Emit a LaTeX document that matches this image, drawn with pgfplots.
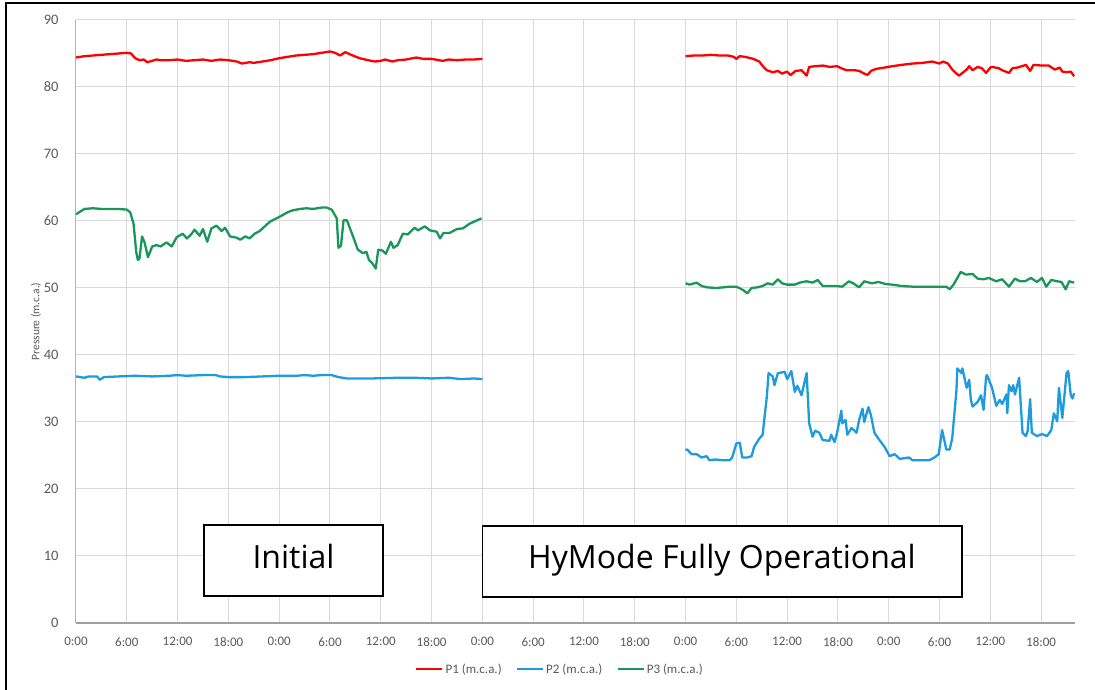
\documentclass[border=0pt]{standalone}
\usepackage{fontspec}
\setmainfont{Carlito}
\newfontfamily\boxfont{Open Sans}
\usepackage{pgfplots}
\pgfplotsset{compat=1.18}
\definecolor{pone}{RGB}{255,0,0}
\definecolor{ptwo}{RGB}{30,155,222}
\definecolor{pthree}{RGB}{25,150,90}
\definecolor{gridc}{RGB}{217,217,217}
\definecolor{tickc}{RGB}{89,89,89}
\begin{document}
\begin{tikzpicture}
\useasboundingbox (-76pt,-67pt) rectangle (1019pt,623pt);
\begin{axis}[
  at={(0pt,0pt)}, anchor=south west,
  scale only axis, width=999pt, height=603pt,
  xmin=0, xmax=118, ymin=0, ymax=90,
  axis x line*=bottom, axis y line*=left,
  x axis line style={draw=gray!75, line width=1.5pt, -},
  y axis line style={draw=gray!60, line width=1pt, -},
  xtick={0,6,...,114},
  xticklabels={0:00,6:00,12:00,18:00,0:00,6:00,12:00,18:00,0:00,6:00,12:00,18:00,0:00,6:00,12:00,18:00,0:00,6:00,12:00,18:00},
  ytick={0,10,...,90},
  grid=major, major grid style={draw=gridc, line width=1pt},
  major tick length=0pt,
  /pgf/number format/assume math mode=true,
  tick label style={font=\fontsize{13}{15}\selectfont, text=tickc},
  yticklabel style={font=\fontsize{14.5}{16}\selectfont, xshift=-14pt},
  xticklabel style={yshift=-11pt},
  ylabel={Pressure (m.c.a.)},
  ylabel style={at={(rel axis cs:-0.04,0.5)}, anchor=center, font=\fontsize{11.5}{13}\selectfont, text=tickc},
  unbounded coords=jump,
  legend columns=3,
  legend style={at={(0.4845,-0.0763)}, anchor=center, draw=none, fill=none,
    font=\fontsize{13}{14}\selectfont, text=tickc,
    /tikz/every even column/.append style={column sep=12pt}},
  legend image code/.code={\draw[#1, line width=2.5pt] (0pt,0pt) -- (26pt,0pt);},
  every axis plot/.append style={line width=2.3pt, line join=round},
]
\addplot[pone] coordinates {
(0,84.4)(1,84.6)(2,84.7)(3,84.8)(4,84.9)(5,85.0)(6,85.1)(6.5,85.0)(7.0,84.3)(7.5,84.0)(8.0,84.1)(8.4,83.7)(9,83.9)(9.5,84.1)(10,84.0)(11,84.0)(12,84.1)(13,83.9)(14,84.0)(15,84.1)(16,83.9)(17,84.1)(18,84.0)(19,83.8)(19.6,83.5)(20.5,83.7)(21,83.6)(22,83.8)(23,84.0)(24,84.3)(25,84.5)(26,84.7)(27,84.8)(28,84.9)(29,85.1)(30,85.3)(30.6,85.1)(31.2,84.7)(31.8,85.2)(32.5,84.8)(33.5,84.3)(34.5,84.0)(35.3,83.8)(36,83.9)(36.5,84.1)(37.4,83.8)(38,84.0)(39,84.1)(40.2,84.4)(41,84.2)(42,84.2)(43.3,83.9)(44,84.1)(45,84.0)(46,84.1)(47,84.1)(48,84.2)
(60,nan)
(72.0,84.6)(73,84.7)(74,84.7)(75,84.8)(76,84.7)(77,84.7)(77.7,84.5)(78.0,84.2)(78.4,84.6)(79,84.5)(80,84.2)(80.7,83.8)(81.2,83.0)(81.6,82.5)(82.3,82.2)(82.9,82.4)(83.4,82.0)(84.0,82.3)(84.4,81.8)(85.0,82.4)(85.7,82.5)(86.3,81.7)(86.6,83.0)(87.3,83.1)(88.2,83.2)(89,83.0)(89.9,83.1)(90.4,82.8)(91,82.5)(92,82.5)(92.5,82.4)(93.1,82.0)(93.5,81.8)(93.9,82.4)(94.5,82.7)(95.5,82.9)(96.4,83.1)(97.5,83.3)(98.8,83.5)(100,83.6)(101.1,83.8)(102,83.5)(102.4,83.8)(103,83.5)(103.5,82.6)(104.0,82.0)(104.3,81.7)(104.8,82.2)(105.2,82.6)(105.5,83.1)(105.9,82.5)(106.5,83.0)(107,82.8)(107.5,82.1)(108.0,82.9)(108.2,83.0)(109,82.8)(109.4,82.5)(110.2,82.1)(110.6,82.8)(111.2,82.9)(112.2,83.3)(112.7,82.4)(113.1,83.3)(114.1,83.2)(114.9,83.2)(115.6,82.6)(116.2,82.9)(116.5,82.3)(117.0,82.2)(117.5,82.3)(117.9,81.6)
};
\addlegendentry{P1 (m.c.a.)}
\addplot[ptwo] coordinates {
(0,36.8)(1,36.6)(1.5,36.8)(2.5,36.8)(2.8,36.3)(3.3,36.7)(5,36.8)(7,36.9)(9,36.8)(11,36.9)(12,37.0)(13,36.9)(15,37.0)(16.5,37.0)(17,36.8)(18,36.7)(20,36.7)(22,36.8)(24,36.9)(26,36.9)(27,37.0)(28,36.9)(29,37.0)(30.2,37.0)(31,36.7)(32,36.5)(35,36.5)(38,36.6)(40,36.6)(42,36.5)(44,36.6)(45.5,36.4)(47,36.5)(48,36.4)
(60,nan)
(72.0,25.8)(72.2,25.9)(72.7,25.2)(73.3,25.2)(73.9,24.7)(74.5,24.9)(74.8,24.3)(75.5,24.4)(76.4,24.3)(77.2,24.3)(77.5,24.7)(78.0,26.8)(78.4,26.9)(78.7,24.7)(79.3,24.7)(79.8,24.9)(80.1,26.3)(80.7,27.5)(81.1,28.1)(81.6,33.8)(81.8,37.3)(82.3,36.8)(82.5,35.5)(82.9,37.3)(83.4,37.4)(83.7,37.5)(84.0,36.4)(84.5,37.6)(84.9,34.5)(85.2,35.4)(85.7,34.0)(86.3,37.3)(86.6,29.8)(87.0,27.8)(87.3,28.7)(87.8,28.4)(88.2,27.3)(89.0,27.2)(89.2,28.1)(89.6,27.0)(89.9,28.4)(90.4,31.7)(90.5,29.8)(90.9,30.3)(91.1,28.1)(91.6,29.1)(92.2,28.4)(92.5,30.3)(92.9,32.0)(93.1,30.0)(93.6,32.2)(93.9,31.0)(94.3,28.4)(94.9,27.3)(95.5,26.3)(96.1,24.9)(96.7,25.2)(97.3,24.5)(98.4,24.7)(98.8,24.3)(100.8,24.3)(101.4,24.7)(101.9,25.2)(102.3,28.8)(102.8,25.9)(103.2,25.9)(103.5,27.6)(104.0,34.8)(104.1,38.0)(104.6,37.3)(104.7,38.0)(105.2,35.1)(105.5,36.3)(105.7,33.3)(105.9,32.3)(106.5,33.0)(106.9,34.0)(107.2,31.8)(107.5,36.8)(107.6,37.0)(108.2,35.1)(108.7,32.4)(109.1,33.3)(109.4,32.7)(109.9,34.1)(110.0,31.3)(110.2,35.5)(110.5,34.6)(110.7,35.5)(110.9,34.1)(111.4,36.6)(111.8,28.4)(112.2,27.9)(112.4,28.6)(112.7,33.4)(112.9,28.4)(113.5,27.9)(114.1,28.2)(114.7,27.9)(115.2,28.8)(115.5,31.3)(115.9,30.1)(116.1,35.1)(116.5,30.6)(117.0,37.3)(117.2,37.6)(117.5,34.0)(117.7,33.5)(117.9,34.3)
};
\addlegendentry{P2 (m.c.a.)}
\addplot[pthree] coordinates {
(0,61.0)(0.5,61.4)(1,61.8)(2,61.9)(3,61.8)(4,61.8)(5,61.8)(6,61.7)(6.4,61.3)(6.8,59.6)(7.1,55.5)(7.3,54.2)(7.5,54.4)(7.8,57.7)(8.1,56.8)(8.5,54.6)(9.0,56.2)(9.5,56.4)(10,56.2)(10.7,56.8)(11.3,56.2)(11.9,57.6)(12.6,58.1)(13.1,57.4)(13.6,58.0)(14,58.7)(14.6,57.8)(15,58.8)(15.5,56.9)(16,58.9)(16.6,59.3)(17.2,58.5)(17.6,59.0)(18.2,57.7)(19,57.5)(19.4,57.2)(20,57.7)(20.5,57.4)(21.1,58.1)(21.7,58.5)(22.3,59.2)(22.9,59.9)(24,60.6)(25,61.3)(25.6,61.6)(26.5,61.8)(27.2,61.9)(28,61.8)(29,62.0)(29.6,62.0)(30.2,61.7)(30.8,60.4)(31.0,56.0)(31.3,56.3)(31.6,60.1)(32,60.1)(32.6,58.1)(33.3,55.7)(33.9,55.2)(34.3,55.4)(34.6,54.2)(35.0,53.7)(35.4,52.9)(35.7,55.7)(36.2,55.6)(36.6,55.1)(37.2,56.9)(37.5,56.0)(38.0,56.4)(38.6,58.1)(39.2,58.0)(40.0,59.0)(40.4,58.6)(41.2,59.2)(41.8,58.6)(42.6,58.4)(43.0,57.4)(43.4,58.2)(44.1,58.2)(45.0,58.8)(45.7,58.9)(46.5,59.6)(47.2,60.0)(47.9,60.4)
(60,nan)
(72,50.7)(72.5,50.5)(73.3,50.8)(73.9,50.3)(74.5,50.1)(75.6,50.0)(76.5,50.1)(77.2,50.2)(78.0,50.2)(78.8,49.7)(79.3,49.2)(79.8,50.0)(80.5,50.1)(81.1,50.3)(81.7,50.7)(82.3,50.5)(82.9,51.3)(83.4,50.7)(84.0,50.5)(84.9,50.5)(85.5,50.8)(86.3,51.0)(87.0,50.8)(87.6,51.2)(88.2,50.3)(89.0,50.3)(89.8,50.3)(90.5,50.2)(91.3,51.0)(91.8,50.7)(92.5,50.1)(93.1,51.0)(94,50.7)(94.8,50.9)(95.6,50.6)(96.4,50.5)(97.5,50.3)(98.8,50.2)(100,50.2)(101.5,50.2)(102.8,50.2)(103.2,49.8)(103.7,50.6)(104.5,52.4)(105.1,52.0)(105.9,52.1)(106.5,51.4)(107.2,51.3)(107.8,51.5)(108.7,51.0)(109.4,51.3)(110.2,50.2)(110.9,51.4)(111.5,51.0)(112.1,51.0)(112.8,51.5)(113.5,50.9)(114.1,51.5)(114.6,50.2)(115.2,51.2)(115.9,51.0)(116.4,50.9)(116.9,49.8)(117.3,51.0)(117.9,50.8)
};
\addlegendentry{P3 (m.c.a.)}
\end{axis}
\draw[line width=1.5pt, fill=white] (128pt,27pt) rectangle (307pt,98pt);
\node[font=\boxfont\fontsize{32}{36}\selectfont, inner sep=0pt] at (217.5pt,66pt) {Initial};
\draw[line width=1.5pt, fill=white] (406.5pt,26pt) rectangle (886pt,97pt);
\node[font=\boxfont\fontsize{32}{36}\selectfont, inner sep=0pt, anchor=base] at (646pt,54pt) {HyMode Fully Operational};
\draw[line width=2.5pt, black] (-70pt,-70pt) -- (-70pt,620pt) -- (1025pt,620pt);
\end{tikzpicture}
\end{document}
